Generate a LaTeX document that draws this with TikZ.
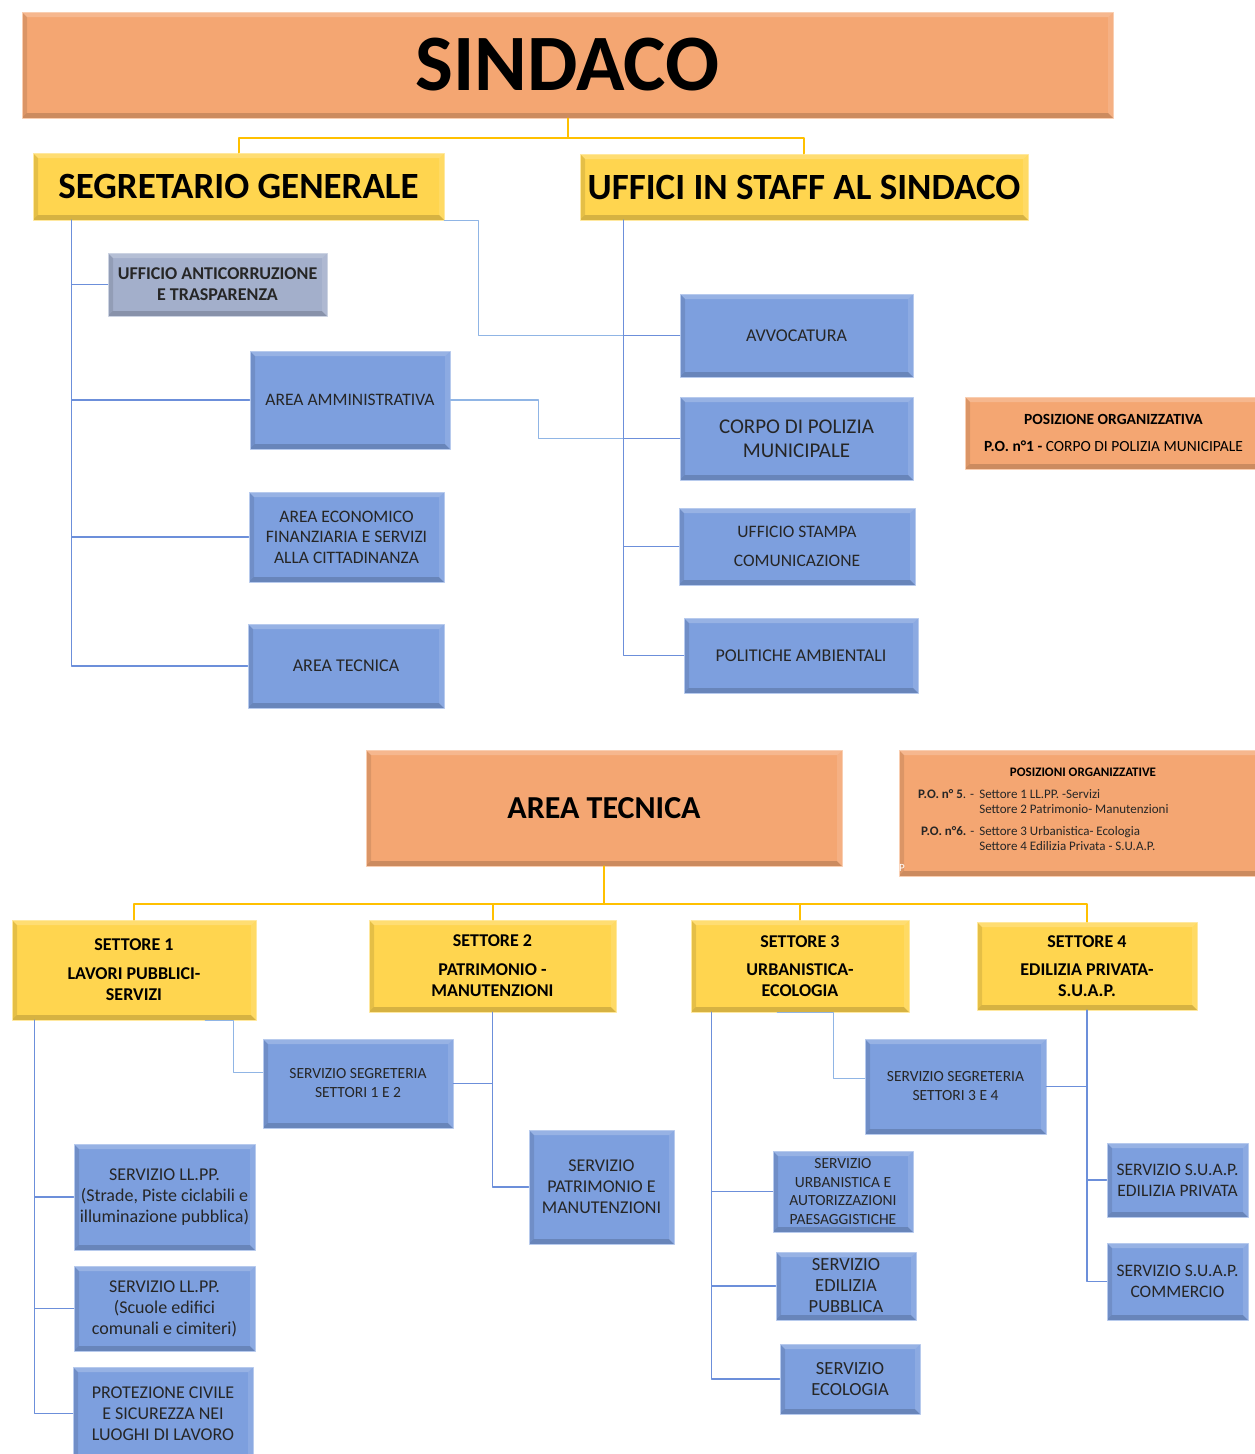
\documentclass[tikz,border=0pt]{standalone}
\usepackage{fontspec}
\setmainfont{Carlito}
\definecolor{orng}{HTML}{F4A672}
\definecolor{ylw}{HTML}{FFD54F}
\definecolor{blu}{HTML}{7D9FDE}
\definecolor{gry}{HTML}{A3AFCB}
\definecolor{lnblu}{HTML}{6C8FDA}
\definecolor{lnlight}{HTML}{90B5E5}
\definecolor{lnylw}{HTML}{FFC000}
\definecolor{txt}{HTML}{262626}

\begin{document}
\begin{tikzpicture}[line cap=round,line join=round,x=1pt,y=-1pt,
    bevel/.style={path picture={
      \fill[white,opacity=.20] (path picture bounding box.north west) -- (path picture bounding box.north east)
        -- ([shift={(-5pt,-5pt)}]path picture bounding box.north east) -- ([shift={(5pt,-5pt)}]path picture bounding box.north west) -- cycle;
      \fill[black,opacity=.10] (path picture bounding box.north west) -- (path picture bounding box.south west)
        -- ([shift={(5pt,5pt)}]path picture bounding box.south west) -- ([shift={(5pt,-5pt)}]path picture bounding box.north west) -- cycle;
      \fill[black,opacity=.16] (path picture bounding box.south west) -- (path picture bounding box.south east)
        -- ([shift={(-5pt,5pt)}]path picture bounding box.south east) -- ([shift={(5pt,5pt)}]path picture bounding box.south west) -- cycle;
      \fill[white,opacity=.12] (path picture bounding box.north east) -- (path picture bounding box.south east)
        -- ([shift={(-5pt,5pt)}]path picture bounding box.south east) -- ([shift={(-5pt,-5pt)}]path picture bounding box.north east) -- cycle;
    }},
    box/.style 2 args={inner sep=0pt,align=center,text=txt,minimum width=#1,minimum height=#2,line width=1pt,bevel},
    orbox/.style 2 args={box={#1}{#2},fill=orng,draw=orng!55!white},
    ylbox/.style 2 args={box={#1}{#2},fill=ylw,draw=ylw!55!white},
    blubox/.style 2 args={box={#1}{#2},fill=blu,draw=blu!55!white},
    grybox/.style 2 args={box={#1}{#2},fill=gry,draw=gry!55!white},
    fs/.style 2 args={font=\fontsize{#1}{#2}\selectfont},
    fsb/.style 2 args={font=\fontsize{#1}{#2}\selectfont\bfseries},
    yline/.style={draw=lnylw,line width=2pt},
    bline/.style={draw=lnblu,line width=1.6pt},
    lline/.style={draw=lnlight,line width=1.6pt}]
    \useasboundingbox (0,0) rectangle (1255,1454);

    \node[orbox={1091pt}{106pt},fsb={80}{96},text=black] (sind) at (567.5,65) {SINDACO};
    \node[ylbox={411pt}{67pt},fsb={37}{44},text=black] (segr) at (238.5,186.5) {SEGRETARIO GENERALE};
    \node[ylbox={448pt}{66pt},fsb={37}{44},text=black] (staff) at (804,187) {UFFICI IN STAFF AL SINDACO};

    \node[grybox={219pt}{63pt},fsb={18}{21}] (anti) at (217.5,284.5) {UFFICIO ANTICORRUZIONE\\E TRASPARENZA};
    \node[blubox={200pt}{98pt},fs={17.5}{21}] (amm) at (350,400) {AREA AMMINISTRATIVA};
    \node[blubox={195pt}{90pt},fs={17.5}{20.5}] (econ) at (346.5,537) {AREA ECONOMICO\\FINANZIARIA E SERVIZI\\ALLA CITTADINANZA};
    \node[blubox={196pt}{84pt},fs={18}{21}] (tec) at (346,666) {AREA TECNICA};

    \node[blubox={233pt}{83pt},fs={18}{21}] (avv) at (796.5,335.5) {AVVOCATURA};
    \node[blubox={233pt}{83pt},fs={21}{24}] (pol) at (796.5,438.5) {CORPO DI POLIZIA\\MUNICIPALE};
    \node[blubox={236pt}{77pt},fs={17.5}{21}] (stampa) at (797,546.5) {UFFICIO STAMPA\\[8pt]COMUNICAZIONE};
    \node[blubox={234pt}{75pt},fs={18}{21}] (polamb) at (801,655.5) {POLITICHE AMBIENTALI};

    \node[orbox={297pt}{72pt},fs={15.5}{27},text=black] (po1) at (1113.5,433) {\textbf{POSIZIONE ORGANIZZATIVA}\\\textbf{P.O. n°1 -} CORPO DI POLIZIA MUNICIPALE};

    \node[orbox={476pt}{116pt},fsb={32}{38},text=black] (at) at (604,808) {AREA TECNICA};
    \node[orbox={363pt}{126pt}] (po2) at (1080.5,813) {};
    \node[fsb={13}{15},text=black] (po2t) at (1083,772) {POSIZIONI ORGANIZZATIVE};
    \node[fs={13}{15},text=txt,anchor=north west,inner sep=0pt,align=left] (po2x) at (918,788)
      {\begin{tabular}{@{}l@{}l@{}}
       \textbf{P.O. n° 5}. -\hspace{5pt} & Settore 1 LL.PP. -Servizi\\
       & Settore 2 Patrimonio- Manutenzioni\\[7pt]
       \textbf{ P.O. n°6.} -\hspace{5pt} & Settore 3 Urbanistica- Ecologia\\
       & Settore 4 Edilizia Privata - S.U.A.P.
       \end{tabular}};
    \node[fs={11}{12},text=white,anchor=south west,inner sep=0pt] (po2p) at (899,872) {P};

    \node[ylbox={244pt}{100pt},fsb={18}{21},text=black] (s1) at (134,970) {SETTORE 1\\[8pt]LAVORI PUBBLICI-\\SERVIZI};
    \node[ylbox={247pt}{92pt},fsb={18}{21},text=black] (s2) at (492.5,966) {SETTORE 2\\[8pt]PATRIMONIO -\\MANUTENZIONI};
    \node[ylbox={218pt}{92pt},fsb={18}{21},text=black] (s3) at (800,966) {SETTORE 3\\[7pt]URBANISTICA-\\ECOLOGIA};
    \node[ylbox={220pt}{88pt},fsb={18}{21},text=black] (s4) at (1087,966) {SETTORE 4\\[7pt]EDILIZIA PRIVATA-\\S.U.A.P.};

    \node[blubox={190pt}{89pt},fs={15.5}{19}] (seg12) at (358,1083.5) {SERVIZIO SEGRETERIA\\SETTORI 1 E 2};
    \node[blubox={181pt}{106pt},fs={18}{21}] (lp1) at (164.5,1197) {SERVIZIO LL.PP.\\(Strade, Piste ciclabili e\\illuminazione pubblica)};
    \node[blubox={181pt}{85pt},fs={18}{21}] (lp2) at (164.5,1308.5) {SERVIZIO LL.PP.\\(Scuole edifici\\comunali e cimiteri)};
    \node[blubox={180pt}{93pt},fs={18}{21}] (prot) at (163,1413.5) {PROTEZIONE CIVILE\\E SICUREZZA NEI\\LUOGHI DI LAVORO};
    \node[blubox={145pt}{114pt},fs={18}{21}] (patr) at (601.5,1187) {SERVIZIO\\PATRIMONIO E\\MANUTENZIONI};

    \node[blubox={181pt}{95pt},fs={15.5}{19}] (seg34) at (955.5,1086.5) {SERVIZIO SEGRETERIA\\SETTORI 3 E 4};
    \node[blubox={140pt}{81pt},fs={15.5}{18.5}] (urb) at (843,1191.5) {SERVIZIO\\URBANISTICA E\\AUTORIZZAZIONI\\PAESAGGISTICHE};
    \node[blubox={140pt}{68pt},fs={18.5}{21}] (edp) at (846,1286) {SERVIZIO\\EDILIZIA\\PUBBLICA};
    \node[blubox={140pt}{70pt},fs={18.5}{21}] (eco) at (850,1379) {SERVIZIO\\ECOLOGIA};
    \node[blubox={141pt}{74pt},fs={17.5}{21}] (suap1) at (1177.5,1180) {SERVIZIO S.U.A.P.\\EDILIZIA PRIVATA};
    \node[blubox={141pt}{77pt},fs={17.5}{21}] (suap2) at (1177.5,1281.5) {SERVIZIO S.U.A.P.\\COMMERCIO};

    \draw[yline] (sind.south) -- ++(0,19) -| (segr.north);
    \draw[yline] (sind.south) -- ++(0,19) -| (staff.north);

    \foreach \n in {anti,amm,econ,tec}
      \draw[bline] ([xshift=39pt]segr.south west) |- (\n.west);
    \draw[lline] (segr.south east) -- ++(34,0) |- (avv.west);
    \draw[lline] (amm.east) -- ++(88,0) |- (pol.west);
    \foreach \n in {avv,pol,stampa,polamb}
      \draw[bline] ([xshift=44pt]staff.south west) |- (\n.west);

    \foreach \n in {s1,s2,s3,s4}
      \draw[yline] (at.south) -- ++(0,37) -| (\n.north);

    \foreach \n in {lp1,lp2,prot}
      \draw[bline] ([xshift=23pt]s1.south west) |- (\n.west);
    \draw[lline] ([xshift=-51pt]s1.south east) -- ++(28,0) |- ([yshift=11pt]seg12.west);
    \draw[bline] (s2.south) |- (seg12.east);
    \draw[bline] (s2.south) |- (patr.west);
    \foreach \n in {urb,edp,eco}
      \draw[bline] ([xshift=21pt]s3.south west) |- (\n.west);
    \draw[lline] ([xshift=-132pt]s3.south east) -- ++(56,0) |- ([yshift=8pt]seg34.west);
    \draw[bline] (s4.south) |- (seg34.east);
    \foreach \n in {suap1,suap2}
      \draw[bline] (s4.south) |- (\n.west);
\end{tikzpicture}
\end{document}
